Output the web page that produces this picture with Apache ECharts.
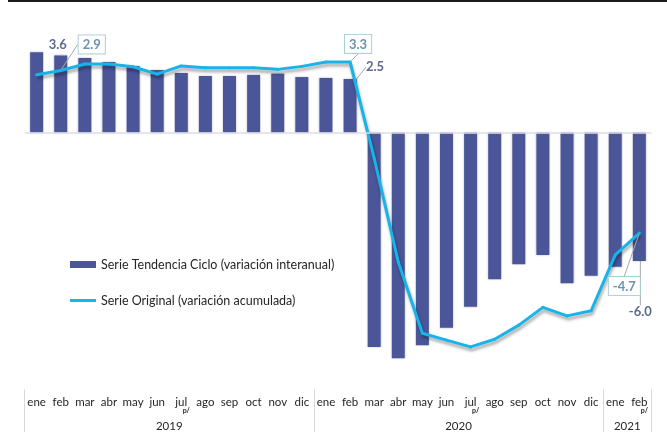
<!DOCTYPE html>
<html>
<head>
<meta charset="utf-8">
<script src="https://cdn.jsdelivr.net/npm/echarts@6/dist/echarts.min.js"></script>
<style>
  html, body { margin: 0; padding: 0; background: #fff; }
  #chart { width: 667px; height: 432px; }
</style>
</head>
<body>
<div id="chart"></div>
<script>
// data
const months = ['ene','feb','mar','abr','may','jun','jul','ago','sep','oct','nov','dic',
                'ene','feb','mar','abr','may','jun','jul','ago','sep','oct','nov','dic',
                'ene','feb'];
const years = ['2019', '2020', '2021'];
const tendencia = [3.75, 3.6, 3.48, 3.29, 3.11, 2.92, 2.78, 2.64, 2.64, 2.69, 2.75, 2.59,
                   2.55, 2.5, -10.02, -10.55, -9.94, -9.12, -8.14, -6.86, -6.16, -5.72, -7.05, -6.69,
                   -6.27, -6.0];
const original = [2.7, 2.9, 3.2, 3.2, 3.07, 2.73, 3.11, 3.03, 3.03, 3.03, 2.95, 3.09,
                  3.29, 3.3, -1.2, -6.05, -9.38, -9.7, -10.02, -9.66, -9.0, -8.17, -8.57, -8.33,
                  -5.72, -4.7];
const prelim = [6, 18, 25];          // months marked p/
const yearStart = [0, 12, 24, 26];   // month index where each year begins (+ end)

const barName = 'Serie Tendencia Ciclo (variación interanual)';
const lineName = 'Serie Original (variación acumulada)';
const FONT = 'Lato';
const barColor = '#4a5698';
const lineColor = '#17b4ea';
const guideColor = '#a8a8a8';

// label offsets from the data point: [dx, dy, leader style]
const barLabels = { 1: [-3, -11, null], 13: [25, -12, 'elbow'], 25: [1, 51, 'down'] };
const lineLabels = { 1: [31, -26, 'elbow'], 13: [8, -18, 'up'], 25: [-15, 53, 'toTop'] };

// year axis uses year boundaries as slots, label sits in the middle of each span
const yearSlots = Array(months.length + 1).fill('');
years.forEach((y, i) => {
  yearSlots[Math.round((yearStart[i] + yearStart[i + 1]) / 2)] = y;
});

function layoutFor(offsets, isBar) {
  return function (p) {
    const o = offsets[p.dataIndex];
    if (!o) return {};
    const r = p.rect, l = p.labelRect;
    const ax = r.x + r.width / 2;
    let ay = r.y + r.height / 2;
    if (isBar) {
      const top = Math.min(r.y, r.y + r.height), bot = Math.max(r.y, r.y + r.height);
      ay = o[1] < 0 ? top : bot;
    }
    const cx = ax + o[0], cy = ay + o[1];
    const lx = cx - l.width / 2, ly = cy - l.height / 2;
    const res = { dx: cx - (l.x + l.width / 2), dy: cy - (l.y + l.height / 2) };
    if (o[2] === 'elbow') res.labelLinePoints = [[ax, ay], [lx - 10, cy + 1], [lx - 1, cy + 1]];
    else if (o[2] === 'down') res.labelLinePoints = [[ax, ay + 1], [ax, ly - 3]];
    else if (o[2] === 'up') res.labelLinePoints = [[ax, ay], [ax + 6, ly + l.height]];
    else if (o[2] === 'toTop') res.labelLinePoints = [[ax, ay], [cx + 1, ly]];
    else res.labelLinePoints = [[ax, ay], [ax, ay]];
    return res;
  };
}

const chart = echarts.init(document.getElementById('chart'));
chart.setOption({
  animation: false,
  textStyle: { fontFamily: FONT },
  graphic: [{ type: 'rect', left: 8, top: 0, shape: { width: 659, height: 2 }, style: { fill: '#1a1a1a' } }],
  grid: { left: 24.6, right: 15.6, top: 25.5, bottom: 42.7, containLabel: false, outerBoundsMode: 'none' },
  legend: {
    orient: 'vertical', left: 70, top: 258, padding: 0, itemGap: 23,
    itemWidth: 26, itemHeight: 7,
    textStyle: { fontFamily: FONT, fontSize: 12.5, color: '#262626' },
    data: [
      { name: barName, icon: 'rect' },
      { name: lineName, icon: 'path://M0 0H26V3H0Z' }
    ]
  },
  xAxis: [
    {
      type: 'category', data: months, position: 'bottom',
      axisLine: { show: false }, axisTick: { show: false },
      axisLabel: {
        interval: 0, margin: 7,
        formatter: (v, i) => prelim.includes(i) ? '{m|' + v + '}\n{p|p/}' : '{m|' + v + '}',
        rich: {
          m: { fontFamily: FONT, fontSize: 11.5, color: '#262626', lineHeight: 12 },
          p: { fontFamily: FONT, fontSize: 7, fontWeight: 'bold', color: '#262626', lineHeight: 4, padding: [0, 0, 0, 10] }
        }
      }
    },
    {
      type: 'category', data: yearSlots, boundaryGap: false, position: 'bottom',
      axisLine: { show: false },
      axisTick: { show: true, interval: (i) => yearStart.includes(i), length: 47, lineStyle: { color: '#d9d9d9' } },
      axisLabel: {
        interval: (i) => yearSlots[i] !== '', margin: 31,
        fontFamily: FONT, fontSize: 11.5, color: '#262626'
      }
    }
  ],
  yAxis: { type: 'value', min: -12, max: 5, show: false, splitLine: { show: false } },
  series: [
    {
      name: barName, type: 'bar', barWidth: 13,
      itemStyle: { color: barColor, shadowColor: 'rgba(60,70,120,0.35)', shadowBlur: 2 },
      data: tendencia.map((v, i) => barLabels[i] ? { value: v, label: { show: true }, labelLine: { show: !!barLabels[i][2] } } : v),
      label: {
        show: false, position: 'top', formatter: (p) => p.value.toFixed(1),
        fontFamily: FONT, fontSize: 13, fontWeight: 'bold', color: '#5d6a8e'
      },
      labelLine: { show: true, lineStyle: { color: guideColor, width: 1 } },
      labelLayout: layoutFor(barLabels, true),
      markLine: {
        silent: true, symbol: 'none', label: { show: false },
        lineStyle: { color: '#dcdce6', width: 1.5, type: 'solid' },
        data: [{ yAxis: 0 }]
      }
    },
    {
      name: lineName, type: 'line', z: 3,
      symbol: 'circle', symbolSize: 3, showSymbol: true,
      itemStyle: { color: lineColor },
      lineStyle: { color: lineColor, width: 3, shadowColor: 'rgba(0,0,0,0.35)', shadowBlur: 3, shadowOffsetY: 3, shadowOffsetX: 1 },
      data: original.map((v, i) => lineLabels[i] ? { value: v, label: { show: true } } : v),
      label: {
        show: false, position: 'top', formatter: (p) => p.value.toFixed(1),
        fontFamily: FONT, fontSize: 13, fontWeight: 'bold', color: '#6f93ab',
        backgroundColor: '#fff', borderColor: '#a9cfd8', borderWidth: 1, padding: [3, 4, 2, 4]
      },
      labelLine: { show: true, lineStyle: { color: guideColor, width: 1 } },
      labelLayout: layoutFor(lineLabels, false)
    }
  ]
});
</script>
</body>
</html>
